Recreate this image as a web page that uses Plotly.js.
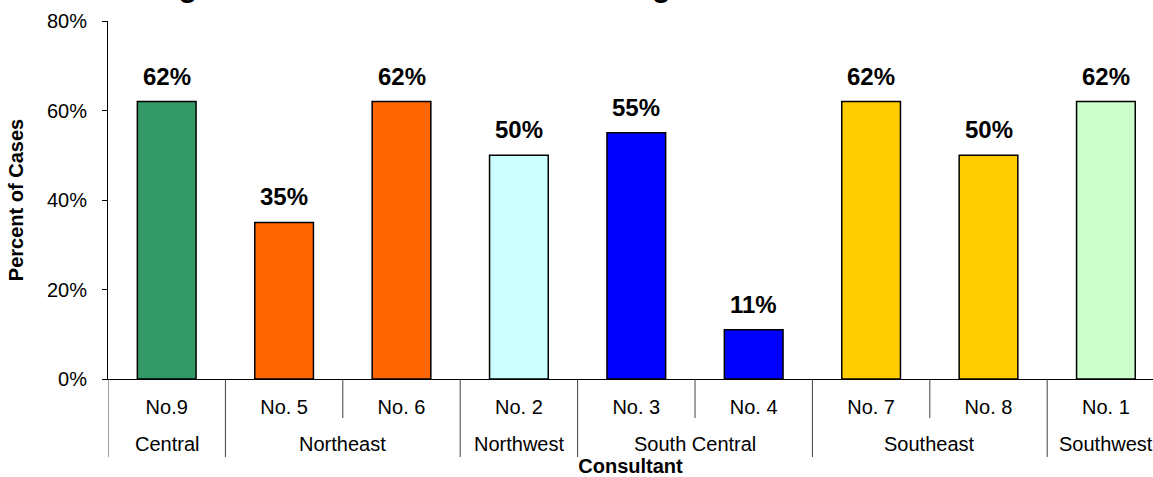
<!DOCTYPE html>
<html>
<head>
<meta charset="utf-8">
<script src="https://cdn.plot.ly/plotly-3.0.1.min.js"></script>
<style>
  html, body { margin: 0; padding: 0; background: #ffffff; }
  #chart { width: 1153px; height: 477px; }
</style>
</head>
<body>
<div id="chart"></div>
<script>
// ---- data ----
const consultants = ['No.9', 'No. 5', 'No. 6', 'No. 2', 'No. 3', 'No. 4', 'No. 7', 'No. 8', 'No. 1'];
const regions = ['Central', 'Northeast', 'Northeast', 'Northwest', 'South Central', 'South Central', 'Southeast', 'Southeast', 'Southwest'];
const percentCases = [0.62, 0.35, 0.62, 0.50, 0.55, 0.11, 0.62, 0.50, 0.62];
const yTickVals = [0, 0.2, 0.4, 0.6, 0.8];
const yTickText = ['0%', '20%', '40%', '60%', '80%'];
const chartTitle = 'Figure 4. Percent of Cases Including Recommendations';
const xTitle = 'Consultant';
const yTitle = 'Percent of Cases';

// ---- styles ----
const regionColors = {
  'Central': '#339966',
  'Northeast': '#FF6600',
  'Northwest': '#CCFFFF',
  'South Central': '#0000FF',
  'Southeast': '#FFCC00',
  'Southwest': '#CCFFCC'
};
const FONT = '"Liberation Sans", Arial, sans-serif';

const trace = {
  type: 'bar',
  x: consultants,
  y: percentCases,
  width: 0.5,
  marker: {
    color: regions.map(r => regionColors[r]),
    line: { color: '#000000', width: 1.5 }
  },
  hoverinfo: 'skip'
};

// value labels above bars
const annotations = consultants.map((c, i) => ({
  x: i, y: percentCases[i], xref: 'x', yref: 'y',
  text: Math.round(percentCases[i] * 100) + '%',
  showarrow: false, yanchor: 'bottom', xanchor: 'center', yshift: 10,
  font: { family: FONT, size: 24, color: '#000000', weight: 'bold' }
}));

// group labels (second category level)
const groupRuns = [];
regions.forEach((r, i) => {
  if (groupRuns.length && groupRuns[groupRuns.length - 1].name === r) {
    groupRuns[groupRuns.length - 1].end = i;
  } else {
    groupRuns.push({ name: r, start: i, end: i });
  }
});
groupRuns.forEach(g => {
  annotations.push({
    x: (g.start + g.end) / 2, xref: 'x', y: -0.181, yref: 'paper',
    text: g.name, showarrow: false, xanchor: 'center', yanchor: 'middle',
    font: { family: FONT, size: 20, color: '#000000' }
  });
});

// separators: short between every category, long at group boundaries
const shapes = [];
for (let i = 0; i <= consultants.length; i++) {
  const isGroupEdge = (i === 0 || i === consultants.length || regions[i] !== regions[i - 1]);
  shapes.push({
    type: 'line', xref: 'x', yref: 'paper',
    x0: i - 0.5, x1: i - 0.5, y0: 0, y1: isGroupEdge ? -0.218 : -0.109,
    line: { color: '#404040', width: 1 }
  });
}

const layout = {
  width: 1153, height: 477,
  margin: { l: 108, r: 0, t: 21, b: 98, pad: 0 },
  paper_bgcolor: '#ffffff', plot_bgcolor: '#ffffff',
  font: { family: FONT, size: 20, color: '#000000' },
  showlegend: false,
  title: {
    text: chartTitle,
    font: { family: FONT, size: 30, color: '#000000', weight: 'bold' },
    xref: 'container', yref: 'container',
    x: 152 / 1153, xanchor: 'left',
    y: 1, yanchor: 'bottom',
    pad: { b: 3 }
  },
  xaxis: {
    type: 'category',
    range: [-0.5, -0.5 + (1153 - 108) / 117.4],
    showline: true, linecolor: '#000000', linewidth: 1,
    ticks: '', showgrid: false, zeroline: false,
    ticklabelstandoff: 10,
    tickfont: { family: FONT, size: 20, color: '#000000' },
    title: {
      text: xTitle, standoff: 50,
      font: { family: FONT, size: 20, color: '#000000', weight: 'bold' }
    },
    fixedrange: true
  },
  yaxis: {
    range: [0, 0.8],
    tickvals: yTickVals, ticktext: yTickText,
    showline: true, linecolor: '#000000', linewidth: 1,
    ticks: 'outside', ticklen: 5, tickcolor: '#000000', tickwidth: 1,
    ticklabelstandoff: 11,
    showgrid: false, zeroline: false,
    tickfont: { family: FONT, size: 20, color: '#000000' },
    title: {
      text: yTitle, standoff: 17,
      font: { family: FONT, size: 20, color: '#000000', weight: 'bold' }
    },
    fixedrange: true
  },
  bargap: 0.5,
  annotations: annotations,
  shapes: shapes
};

Plotly.newPlot('chart', [trace], layout, { displayModeBar: false, staticPlot: true });
</script>
</body>
</html>
